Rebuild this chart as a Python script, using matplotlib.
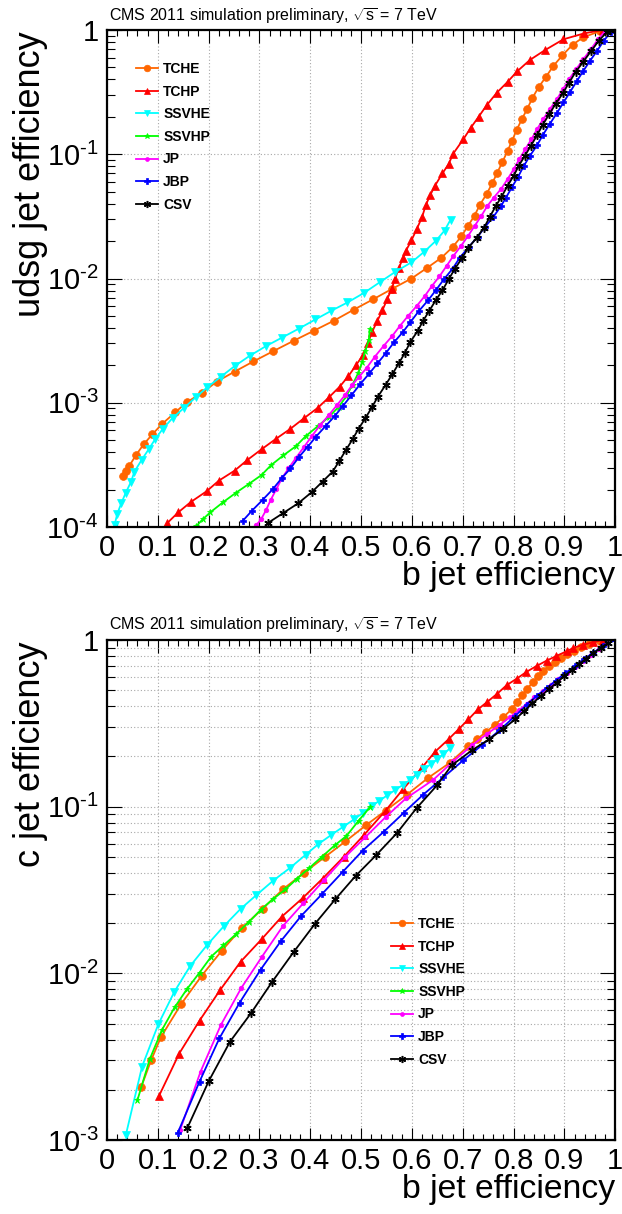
import math

import matplotlib
matplotlib.use("Agg")
import matplotlib.pyplot as plt
from matplotlib.ticker import MultipleLocator, LogLocator, FuncFormatter, NullFormatter

plt.rcParams["font.family"] = ["Liberation Sans", "DejaVu Sans"]
plt.rcParams["mathtext.fontset"] = "custom"
plt.rcParams["mathtext.rm"] = "Liberation Sans"
plt.rcParams["mathtext.it"] = "Liberation Sans:italic"

names = ["TCHE", "TCHP", "SSVHE", "SSVHP", "JP", "JBP", "CSV"]

# ---- udsg mistag vs b efficiency (top panel) ----
tche_b_udsg = [0.031, 0.037, 0.044, 0.057, 0.072, 0.089, 0.108, 0.134, 0.157, 0.187, 0.216, 0.251, 0.288, 0.327,
               0.367, 0.407, 0.447, 0.485, 0.523, 0.561, 0.599, 0.630, 0.658, 0.680, 0.697, 0.710, 0.723, 0.734,
               0.747, 0.758, 0.768, 0.778, 0.788, 0.797, 0.806, 0.816, 0.827, 0.837, 0.849, 0.864, 0.878, 0.896,
               0.916, 0.937, 0.970]
tche_udsg = [2.57e-4, 2.84e-4, 3.11e-4, 3.79e-4, 4.62e-4, 5.56e-4, 6.73e-4, 8.35e-4, 1.01e-3, 1.20e-3, 1.48e-3,
             1.78e-3, 2.15e-3, 2.60e-3, 3.15e-3, 3.80e-3, 4.59e-3, 5.60e-3, 6.78e-3, 8.26e-3, 1.00e-2, 1.22e-2,
             1.47e-2, 1.79e-2, 2.18e-2, 2.64e-2, 3.21e-2, 3.94e-2, 4.80e-2, 5.85e-2, 7.13e-2, 8.68e-2, 0.106,
             0.129, 0.157, 0.191, 0.233, 0.284, 0.346, 0.422, 0.513, 0.625, 0.762, 0.873, 0.98]

tchp_b_udsg = [0.119, 0.140, 0.165, 0.196, 0.220, 0.251, 0.276, 0.304, 0.332, 0.361, 0.388, 0.415, 0.437, 0.458,
               0.475, 0.490, 0.504, 0.513, 0.521, 0.532, 0.542, 0.551, 0.560, 0.567, 0.574, 0.582, 0.588, 0.599,
               0.609, 0.620, 0.627, 0.636, 0.645, 0.660, 0.672, 0.681, 0.701, 0.716, 0.731, 0.747, 0.767, 0.788,
               0.807, 0.832, 0.862, 0.898, 0.939, 0.975]
tchp_udsg = [1.08e-4, 1.31e-4, 1.59e-4, 1.94e-4, 2.36e-4, 2.84e-4, 3.46e-4, 4.22e-4, 5.11e-4, 6.18e-4, 7.53e-4,
             9.12e-4, 1.11e-3, 1.35e-3, 1.64e-3, 2.01e-3, 2.43e-3, 3.00e-3, 3.68e-3, 4.57e-3, 5.56e-3, 6.78e-3,
             8.26e-3, 1.00e-2, 1.21e-2, 1.45e-2, 1.67e-2, 2.03e-2, 2.48e-2, 3.13e-2, 3.88e-2, 4.70e-2, 5.56e-2,
             7.03e-2, 8.31e-2, 0.101, 0.132, 0.164, 0.200, 0.248, 0.313, 0.382, 0.465, 0.574, 0.690, 0.842, 0.940, 1.0]

ssvhe_b_udsg = [0.015, 0.020, 0.028, 0.037, 0.047, 0.054, 0.068, 0.082, 0.095, 0.110, 0.129, 0.152, 0.175, 0.197,
                0.224, 0.251, 0.281, 0.313, 0.344, 0.377, 0.410, 0.441, 0.473, 0.506, 0.537, 0.567, 0.599, 0.624,
                0.647, 0.664, 0.676]
ssvhe_udsg = [1.04e-4, 1.27e-4, 1.55e-4, 1.89e-4, 2.30e-4, 2.79e-4, 3.46e-4, 4.22e-4, 5.11e-4, 6.18e-4, 7.53e-4,
              9.12e-4, 1.11e-3, 1.33e-3, 1.62e-3, 1.97e-3, 2.39e-3, 2.86e-3, 3.34e-3, 3.94e-3, 4.68e-3, 5.49e-3,
              6.41e-3, 7.67e-3, 9.35e-3, 1.13e-2, 1.35e-2, 1.64e-2, 2.01e-2, 2.43e-2, 2.98e-2]

ssvhp_b_udsg = [0.176, 0.188, 0.203, 0.229, 0.254, 0.279, 0.304, 0.323, 0.347, 0.372, 0.391, 0.415, 0.437, 0.456,
                0.471, 0.483, 0.494, 0.502, 0.508, 0.515, 0.517]
ssvhp_udsg = [1.02e-4, 1.15e-4, 1.31e-4, 1.59e-4, 1.89e-4, 2.22e-4, 2.62e-4, 3.15e-4, 3.77e-4, 4.48e-4, 5.39e-4,
              6.49e-4, 7.71e-4, 9.29e-4, 1.13e-3, 1.40e-3, 1.72e-3, 2.11e-3, 2.60e-3, 3.19e-3, 3.89e-3]

jp_b_udsg = [0.294, 0.303, 0.313, 0.322, 0.333, 0.344, 0.357, 0.372, 0.388, 0.403, 0.419, 0.436, 0.452, 0.468,
             0.482, 0.496, 0.511, 0.527, 0.544, 0.561, 0.576, 0.592, 0.609, 0.625, 0.639, 0.654, 0.668, 0.681,
             0.696, 0.710, 0.723, 0.736, 0.748, 0.761, 0.776, 0.788, 0.800, 0.811, 0.823, 0.835, 0.846, 0.858,
             0.871, 0.885, 0.897, 0.909, 0.923, 0.937, 0.952, 0.966, 0.980, 0.988]
jp_udsg = [1.04e-4, 1.15e-4, 1.37e-4, 1.65e-4, 2.01e-4, 2.46e-4, 2.96e-4, 3.61e-4, 4.43e-4, 5.39e-4, 6.58e-4,
           7.91e-4, 9.52e-4, 1.15e-3, 1.38e-3, 1.62e-3, 1.91e-3, 2.35e-3, 2.86e-3, 3.44e-3, 4.14e-3, 4.98e-3,
           5.99e-3, 7.21e-3, 8.68e-3, 1.04e-2, 1.26e-2, 1.51e-2, 1.82e-2, 2.19e-2, 2.64e-2, 3.17e-2, 3.82e-2,
           4.48e-2, 5.30e-2, 6.30e-2, 7.57e-2, 9.11e-2, 0.110, 0.132, 0.159, 0.191, 0.230, 0.277, 0.333, 0.401,
           0.483, 0.581, 0.700, 0.842, 0.98, 1.0]

jbp_b_udsg = [0.267, 0.285, 0.306, 0.326, 0.344, 0.361, 0.377, 0.395, 0.411, 0.430, 0.448, 0.464, 0.481, 0.498,
              0.516, 0.532, 0.549, 0.565, 0.582, 0.597, 0.614, 0.632, 0.647, 0.663, 0.680, 0.694, 0.712, 0.729,
              0.744, 0.760, 0.775, 0.785, 0.797, 0.809, 0.820, 0.832, 0.846, 0.858, 0.871, 0.885, 0.898, 0.911,
              0.924, 0.937, 0.950, 0.964, 0.977, 0.991, 1.0]
jbp_udsg = [1.12e-4, 1.35e-4, 1.65e-4, 2.01e-4, 2.48e-4, 2.96e-4, 3.63e-4, 4.43e-4, 5.33e-4, 6.49e-4, 7.81e-4,
            9.40e-4, 1.15e-3, 1.41e-3, 1.72e-3, 2.07e-3, 2.52e-3, 3.08e-3, 3.70e-3, 4.46e-3, 5.50e-3, 6.70e-3,
            8.05e-3, 9.88e-3, 1.20e-2, 1.47e-2, 1.80e-2, 2.16e-2, 2.61e-2, 3.13e-2, 3.82e-2, 4.48e-2, 5.46e-2,
            6.61e-2, 8.06e-2, 9.70e-2, 0.118, 0.144, 0.175, 0.214, 0.261, 0.317, 0.386, 0.468, 0.563, 0.678,
            0.816, 0.96, 1.0]

csv_b_udsg = [0.317, 0.346, 0.376, 0.403, 0.424, 0.444, 0.457, 0.470, 0.483, 0.495, 0.508, 0.521, 0.533, 0.548,
              0.561, 0.574, 0.586, 0.597, 0.611, 0.622, 0.634, 0.647, 0.660, 0.672, 0.684, 0.698, 0.711, 0.727,
              0.742, 0.753, 0.765, 0.776, 0.788, 0.800, 0.810, 0.822, 0.834, 0.846, 0.857, 0.870, 0.883, 0.897,
              0.909, 0.922, 0.937, 0.952, 0.967, 0.983, 0.990]
csv_udsg = [1.08e-4, 1.29e-4, 1.55e-4, 1.91e-4, 2.32e-4, 2.79e-4, 3.40e-4, 4.16e-4, 5.07e-4, 6.18e-4, 7.48e-4,
            9.17e-4, 1.12e-3, 1.39e-3, 1.69e-3, 2.07e-3, 2.52e-3, 3.10e-3, 3.77e-3, 4.57e-3, 5.50e-3, 6.70e-3,
            8.05e-3, 9.82e-3, 1.19e-2, 1.45e-2, 1.77e-2, 2.12e-2, 2.57e-2, 3.13e-2, 3.84e-2, 4.54e-2, 5.56e-2,
            6.70e-2, 8.06e-2, 9.70e-2, 0.117, 0.142, 0.172, 0.210, 0.256, 0.310, 0.377, 0.459, 0.556, 0.673,
            0.815, 0.96, 1.0]

# ---- c mistag vs b efficiency (bottom panel) ----
tche_b_c = [0.067, 0.087, 0.106, 0.146, 0.186, 0.226, 0.266, 0.306, 0.347, 0.388, 0.428, 0.469, 0.510, 0.548,
            0.590, 0.632, 0.674, 0.711, 0.728, 0.746, 0.763, 0.780, 0.796, 0.807, 0.817, 0.827, 0.838, 0.848,
            0.858, 0.869, 0.881, 0.893, 0.905, 0.918, 0.932, 0.949, 0.970]
tche_c = [2.07e-3, 3.02e-3, 4.14e-3, 6.55e-3, 9.65e-3, 1.37e-2, 1.88e-2, 2.44e-2, 3.21e-2, 4.02e-2, 4.97e-2,
          6.19e-2, 7.76e-2, 9.46e-2, 0.118, 0.149, 0.183, 0.231, 0.254, 0.281, 0.310, 0.345, 0.384, 0.425, 0.466,
          0.511, 0.560, 0.608, 0.652, 0.695, 0.738, 0.780, 0.820, 0.863, 0.904, 0.942, 0.98]

tchp_b_c = [0.102, 0.142, 0.182, 0.222, 0.263, 0.304, 0.344, 0.385, 0.424, 0.466, 0.506, 0.548, 0.583, 0.620,
            0.645, 0.672, 0.693, 0.711, 0.730, 0.748, 0.768, 0.786, 0.806, 0.825, 0.845, 0.865, 0.884, 0.904,
            0.917, 0.937, 0.957, 0.975]
tchp_c = [1.83e-3, 3.30e-3, 5.2e-3, 7.9e-3, 1.175e-2, 1.60e-2, 2.19e-2, 2.83e-2, 3.70e-2, 5.01e-2, 6.79e-2,
          9.46e-2, 0.128, 0.172, 0.213, 0.254, 0.294, 0.334, 0.384, 0.425, 0.477, 0.535, 0.586, 0.643, 0.698,
          0.752, 0.802, 0.855, 0.895, 0.938, 0.97, 1.0]

ssvhe_b_c = [0.037, 0.069, 0.101, 0.1325, 0.164, 0.197, 0.230, 0.263, 0.294, 0.327, 0.360, 0.391, 0.416, 0.441,
             0.465, 0.486, 0.504, 0.521, 0.536, 0.5515, 0.567, 0.582, 0.596, 0.609, 0.624, 0.637, 0.650, 0.662,
             0.675]
ssvhe_c = [1.07e-3, 2.76e-3, 4.95e-3, 7.75e-3, 1.11e-2, 1.48e-2, 1.92e-2, 2.44e-2, 2.95e-2, 3.60e-2, 4.29e-2,
           5.15e-2, 5.97e-2, 6.76e-2, 7.59e-2, 8.39e-2, 9.20e-2, 0.101, 0.1086, 0.117, 0.126, 0.135, 0.1445,
           0.1556, 0.1675, 0.180, 0.192, 0.207, 0.224]

ssvhp_b_c = [0.060, 0.084, 0.108, 0.133, 0.157, 0.182, 0.205, 0.229, 0.254, 0.279, 0.302, 0.326, 0.351, 0.374,
             0.398, 0.423, 0.448, 0.471, 0.495, 0.517]
ssvhp_c = [1.74e-3, 3.05e-3, 4.57e-3, 6.25e-3, 8.02e-3, 1.01e-2, 1.26e-2, 1.47e-2, 1.72e-2, 2.03e-2, 2.40e-2,
           2.78e-2, 3.19e-2, 3.70e-2, 4.29e-2, 5.01e-2, 5.86e-2, 6.67e-2, 8.24e-2, 9.9e-2]

jp_b_c = [0.144, 0.184, 0.224, 0.264, 0.305, 0.346, 0.386, 0.427, 0.469, 0.508, 0.549, 0.588, 0.642, 0.681, 0.718,
          0.748, 0.773, 0.793, 0.810, 0.826, 0.841, 0.857, 0.873, 0.888, 0.904, 0.920, 0.936, 0.952, 0.967, 0.983]
jp_c = [1.15e-3, 2.57e-3, 4.90e-3, 8.15e-3, 1.26e-2, 1.92e-2, 2.63e-2, 3.63e-2, 5.01e-2, 6.55e-2, 8.71e-2, 0.112,
        0.145, 0.187, 0.233, 0.274, 0.310, 0.345, 0.378, 0.415, 0.453, 0.492, 0.535, 0.581, 0.631, 0.686, 0.745,
        0.809, 0.879, 0.955]

jbp_b_c = [0.139, 0.182, 0.221, 0.261, 0.302, 0.342, 0.382, 0.423, 0.464, 0.503, 0.544, 0.584, 0.622, 0.662,
           0.701, 0.737, 0.772, 0.803, 0.826, 0.845, 0.865, 0.883, 0.901, 0.920, 0.938, 0.957, 0.975, 1.0]
jbp_c = [1.10e-3, 2.24e-3, 4.07e-3, 6.67e-3, 1.05e-2, 1.56e-2, 2.21e-2, 2.99e-2, 4.07e-2, 5.45e-2, 7.05e-2,
         9.2e-2, 0.118, 0.150, 0.190, 0.233, 0.287, 0.350, 0.409, 0.461, 0.515, 0.570, 0.631, 0.695, 0.766, 0.840,
         0.916, 1.0]

csv_b_c = [0.158, 0.200, 0.242, 0.283, 0.325, 0.367, 0.409, 0.449, 0.489, 0.529, 0.570, 0.609, 0.649, 0.678,
           0.718, 0.752, 0.780, 0.803, 0.820, 0.837, 0.853, 0.869, 0.885, 0.899, 0.914, 0.928, 0.943, 0.957,
           0.972, 0.986]
csv_c = [1.18e-3, 2.25e-3, 3.89e-3, 5.75e-3, 8.9e-3, 1.34e-2, 1.98e-2, 2.78e-2, 3.84e-2, 5.10e-2, 6.92e-2, 9.8e-2,
         0.134, 0.177, 0.218, 0.254, 0.294, 0.334, 0.373, 0.417, 0.459, 0.506, 0.555, 0.605, 0.658, 0.714, 0.773,
         0.836, 0.900, 0.964]

udsg_curves = [(tche_b_udsg, tche_udsg), (tchp_b_udsg, tchp_udsg), (ssvhe_b_udsg, ssvhe_udsg),
               (ssvhp_b_udsg, ssvhp_udsg), (jp_b_udsg, jp_udsg), (jbp_b_udsg, jbp_udsg), (csv_b_udsg, csv_udsg)]
c_curves = [(tche_b_c, tche_c), (tchp_b_c, tchp_c), (ssvhe_b_c, ssvhe_c), (ssvhp_b_c, ssvhp_c),
            (jp_b_c, jp_c), (jbp_b_c, jbp_c), (csv_b_c, csv_c)]

# colour, marker, marker size
styles = [
    ("#ff6600", "o", 5.6),
    ("#ff0000", "^", 5.6),
    ("#00ffff", "v", 5.6),
    ("#00ff00", "*", 5),
    ("#ff00ff", "o", 3.3),
    ("#0000ff", "P", 4.8),
    ("#000000", (6, 2, 0), 6),
]

W, H = 622, 1214
fig = plt.figure(figsize=(W / 100, H / 100), dpi=100)


def px_axes(left, top, right, bottom):
    return fig.add_axes([left / W, 1 - bottom / H, (right - left) / W, (bottom - top) / H])


def decade_label(v, _pos):
    e = int(round(math.log10(v)))
    if e == 0:
        return "1"
    return r"$\mathregular{10^{\text{-}%d}}$" % abs(e)


def style_axes(ax, ymin, minor_grid):
    ax.set_xlim(0, 1)
    ax.set_yscale("log")
    ax.set_ylim(ymin, 1)
    ax.xaxis.set_major_locator(MultipleLocator(0.1))
    ax.xaxis.set_minor_locator(MultipleLocator(0.02))
    ax.xaxis.set_major_formatter(FuncFormatter(lambda v, p: "%g" % round(v, 2)))
    ax.yaxis.set_major_locator(LogLocator(base=10, numticks=10))
    ax.yaxis.set_minor_locator(LogLocator(base=10, subs=range(2, 10), numticks=20))
    ax.yaxis.set_major_formatter(FuncFormatter(decade_label))
    ax.yaxis.set_minor_formatter(NullFormatter())
    ax.tick_params(which="both", direction="in", top=True, right=True, width=0.8, labelsize=21)
    ax.tick_params(axis="x", which="major", length=9, pad=5)
    ax.tick_params(axis="x", which="minor", length=4)
    ax.tick_params(axis="y", which="major", length=11, pad=6)
    ax.tick_params(axis="y", which="minor", length=6)
    for s in ax.spines.values():
        s.set_linewidth(1.6)
    gkw = dict(color="#a8a8a8", linestyle=(0, (1, 2)), linewidth=0.8)
    ax.grid(True, axis="x", which="major", **gkw)
    ax.grid(True, axis="y", which="major", **gkw)
    if minor_grid:
        ax.grid(True, axis="y", which="minor", **gkw)
    ax.set_axisbelow(True)


def draw(ax, curves):
    handles = []
    for (bx, by), (col, mk, ms), name in zip(curves, styles, names):
        (h,) = ax.plot(bx, by, color=col, lw=1.3, marker=mk, ms=ms, mfc=col, mec=col,
                       mew=1.1 if name == "CSV" else 0.5, label=name)
        handles.append(h)
    return handles


def add_legend(ax, handles, left_px, top_px):
    ax.legend(handles=handles, loc="upper left", bbox_to_anchor=(left_px / W, 1 - top_px / H),
              bbox_transform=fig.transFigure, frameon=False, prop={"weight": "bold", "size": 10},
              handlelength=1.6, handletextpad=0.35, labelspacing=0.62, borderpad=0, borderaxespad=0,
              markerscale=0.85)


header = r"CMS 2011 simulation preliminary, $\sqrt{\mathrm{s}}$ = 7 TeV"

# top panel
ax1 = px_axes(107, 30, 615.3, 527)
style_axes(ax1, 1e-4, False)
add_legend(ax1, draw(ax1, udsg_curves), 136, 62)
fig.text(109 / W, 1 - 21 / H, header, fontsize=11.5, ha="left", va="baseline")
fig.text(615 / W, 1 - 561 / H, "b jet efficiency", fontsize=24.3, ha="right", va="top")
fig.text(31 / W, 1 - 31 / H, "udsg jet efficiency", fontsize=26, rotation=90, ha="center", va="top")

# bottom panel
ax2 = px_axes(107, 640, 615.3, 1140)
style_axes(ax2, 1e-3, True)
add_legend(ax2, draw(ax2, c_curves), 391, 917)
fig.text(109 / W, 1 - 630 / H, header, fontsize=11.5, ha="left", va="baseline")
fig.text(615 / W, 1 - 1174 / H, "b jet efficiency", fontsize=24.3, ha="right", va="top")
fig.text(31 / W, 1 - 641 / H, "c jet efficiency", fontsize=26, rotation=90, ha="center", va="top")

fig.savefig("out.png", dpi=100)
